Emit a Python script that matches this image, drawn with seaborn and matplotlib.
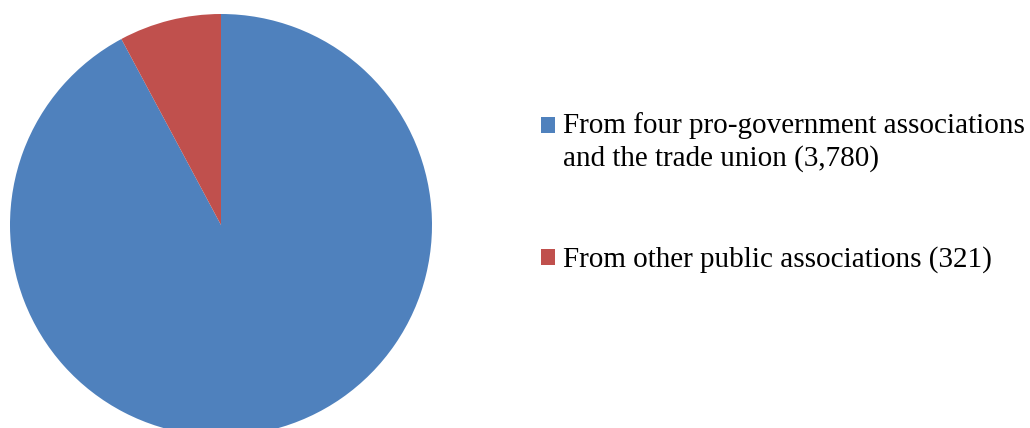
import matplotlib
matplotlib.use("Agg")
import matplotlib.pyplot as plt
import seaborn as sns
from matplotlib.patches import Patch, Rectangle
from matplotlib.legend_handler import HandlerPatch

# Data
LABELS = [
    "From four pro-government associations\nand the trade union (3,780)",
    "From other public associations (321)",
]
VALUES = [3780, 321]
COLORS = ["#4F81BD", "#C0504D"]

sns.set_theme(style="white")
plt.rcParams["font.family"] = ["Liberation Serif", "DejaVu Serif"]

fig = plt.figure(figsize=(10.3, 4.28), dpi=100)
ax = fig.add_axes([10 / 1030, -8 / 428, 422 / 1030, 422 / 428])
ax.pie(VALUES, colors=COLORS, startangle=90, counterclock=False, radius=1,
       wedgeprops=dict(linewidth=0))
ax.set_xlim(-1, 1)
ax.set_ylim(-1, 1)
ax.set_aspect("equal")
ax.axis("off")


def top_square(legend, orig_handle, xdescent, ydescent, width, height, fontsize):
    # keep the marker next to the first line of a two-line label
    return Rectangle((-xdescent, -ydescent + 12), width, height)


handles = [Patch(facecolor=c, edgecolor="none") for c in COLORS]
leg = fig.legend(handles, LABELS, loc="upper left", bbox_to_anchor=(541 / 1030, 1 - 112 / 428),
                 frameon=False, fontsize=21, borderpad=0, borderaxespad=0,
                 handlelength=0.48, handleheight=0.48, handletextpad=0.27,
                 labelspacing=2.55, labelcolor="black",
                 handler_map={handles[0]: HandlerPatch(patch_func=top_square)})
for t in leg.get_texts():
    t.set_linespacing(1.3)

fig.savefig("out.png", dpi=100)
